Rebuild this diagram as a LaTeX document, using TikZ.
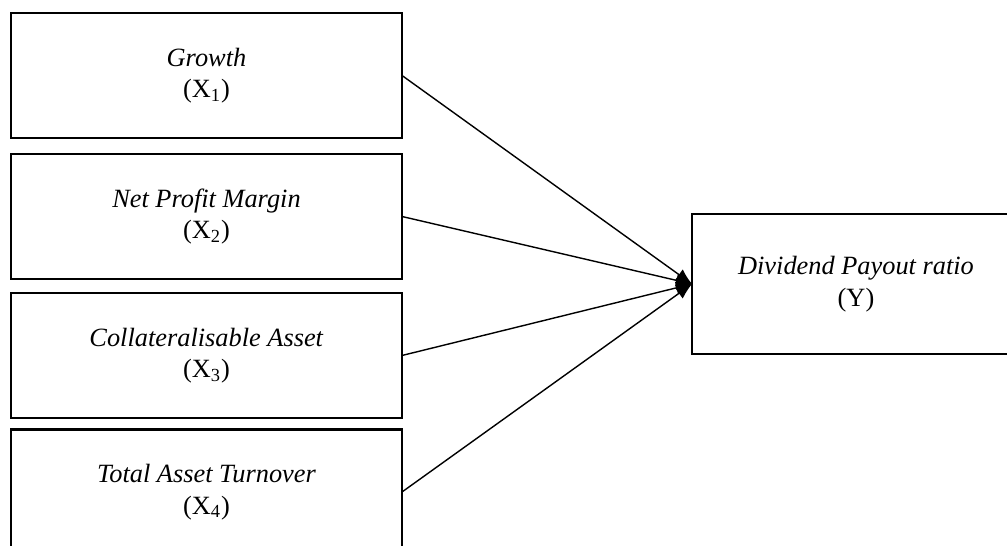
\documentclass[tikz,border=0pt]{standalone}
\usepackage{fontspec}
\setmainfont{Liberation Serif}
\usetikzlibrary{positioning, arrows.meta}
\tikzset{varbox/.style={draw, line width=1.6pt, align=center, inner sep=0pt, outer sep=0pt, font=\fontsize{15}{18}\selectfont}}
\tikzset{arr/.style={draw, line width=0.8pt, -{Latex[length=3.2mm,width=2.6mm]}}}

\begin{document}
\begin{tikzpicture}
\clip (0,0) rectangle (20.14,10.92);
\begin{scope}[every node/.style={varbox, minimum width=7.82cm, minimum height=2.5cm}]
	\node at (4.13, 9.41) (gr) {\textit{Growth}\\(X\textsubscript{1})};
	\node at (4.13, 6.59) (npm) {\textit{Net Profit Margin}\\(X\textsubscript{2})};
	\node at (4.13, 3.81) (ca) {\textit{Collateralisable Asset}\\(X\textsubscript{3})};
	\node at (4.13, 1.08) (tat) {\textit{Total Asset Turnover}\\(X\textsubscript{4})};
\end{scope}
	\node[varbox, minimum width=6.56cm, minimum height=2.8cm] at (17.12, 5.24) (dpr)
		{\textit{Dividend Payout ratio}\\(Y)};
\draw[arr] (gr.east) to (dpr.west);
\draw[arr] (npm.east) to (dpr.west);
\draw[arr] (ca.east) to (dpr.west);
\draw[arr] (tat.east) to (dpr.west);
\end{tikzpicture}
\end{document}
